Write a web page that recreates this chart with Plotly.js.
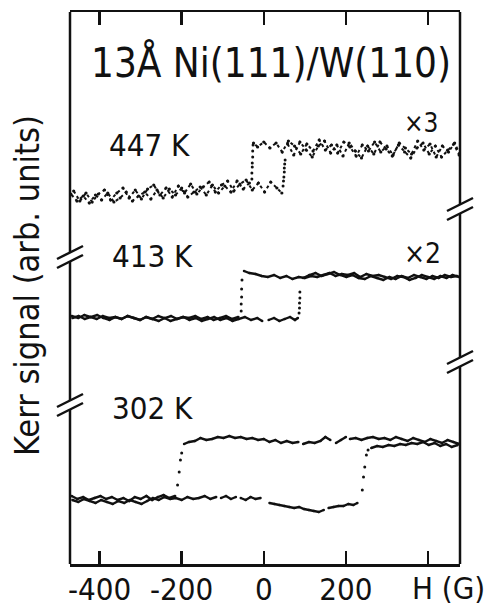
<!DOCTYPE html>
<html>
<head>
<meta charset="utf-8">
<script src="https://cdn.plot.ly/plotly-3.0.1.min.js"></script>
<style>
  html, body { margin: 0; padding: 0; background: #fff; }
  #chart { width: 487px; height: 607px; }
</style>
</head>
<body>
<div id="chart"></div>
<script>
// ---------------- data (H in gauss, Kerr signal in arb. units, curves offset) ----------------
const tickVals = [-400, -200, 0, 200, 400];
const tickText = ["-400", "-200", "0", "200", ""];

// 447 K (x3): descending sweep (+H -> -H)
const H447Down = [478, 465, 450, 435, 420, 405, 390, 375, 360, 345, 330, 315, 300, 285, 270, 255, 240, 225, 210, 195, 180, 165, 150, 135, 120, 105, 90, 75, 60, 45, 30, 15, 0, -15, -25,
  null,
  -35, -50, -65, -80, -95, -110, -125, -140, -155, -170, -185, -200, -215, -230, -245, -260, -275, -290, -305, -320, -335, -350, -365, -380, -395, -410, -425, -440, -455, -470];
const S447Down = [409, 421, 412, 418, 407, 420, 414, 423, 410, 416, 421, 409, 418, 412, 422, 413, 419, 408, 417, 422, 411, 419, 414, 424, 413, 420, 410, 418, 423, 412, 421, 416, 422, 417, 421,
  null,
  381, 375, 383, 372, 378, 371, 379, 369, 377, 372, 367, 376, 369, 375, 366, 374, 365, 372, 368, 363, 372, 366, 362, 371, 364, 369, 361, 368, 363, 370];
const H447DownSwitch = [-26, -27, -27, -28, -28, -29, -29];
const S447DownSwitch = [419, 413, 407, 401, 397, 391, 385];
// 447 K (x3): ascending sweep (-H -> +H)
const H447Up = [-463, -448, -433, -418, -403, -388, -373, -358, -343, -328, -313, -298, -283, -268, -253, -238, -223, -208, -193, -178, -163, -148, -133, -118, -103, -88, -73, -58, -43, -28, -13, 2, 17, 32, 44,
  null,
  58, 73, 88, 103, 118, 133, 148, 163, 178, 193, 208, 223, 238, 253, 268, 283, 298, 313, 328, 343, 358, 373, 388, 403, 418, 433, 448, 463, 476];
const S447Up = [373, 363, 371, 362, 370, 374, 364, 371, 376, 366, 374, 365, 375, 379, 369, 376, 367, 378, 371, 380, 370, 377, 382, 372, 379, 383, 373, 380, 384, 374, 381, 372, 382, 376, 371,
  null,
  420, 409, 422, 414, 407, 418, 423, 411, 419, 408, 421, 413, 406, 418, 410, 422, 415, 408, 419, 412, 406, 416, 421, 410, 418, 407, 414, 420, 409];
const H447UpSwitch = [47, 48, 49, 50, 50, 51, 52];
const S447UpSwitch = [378, 383, 387, 392, 396, 400, 404];

// 413 K (x2): descending sweep
const H413Down = [476, 460, 445, 430, 415, 400, 385, 370, 355, 340, 325, 310, 295, 280, 265, 250, 235, 220, 205, 190, 175, 160, 145, 130, 115, 100, 85, 70, 55, 40, 25, 10, -5, -20, -35, -48,
  null,
  -62, -77, -92, -107, -122, -137, -152, -167, -182, -197, -212, -227, -242, -257, -272, -287, -302, -317, -332, -347, -362, -377, -392, -407, -422, -437, -452, -468];
const S413Down = [287, 289, 286, 288, 285, 287, 289, 286, 284, 287, 288, 285, 287, 289, 288, 290, 287, 291, 289, 290, 288, 291, 289, 287, 288, 286, 287, 285, 288, 286, 289, 287, 288, 290, 291, 293,
  null,
  247, 245, 248, 246, 244, 247, 245, 248, 246, 247, 245, 243, 246, 248, 245, 247, 244, 246, 248, 245, 247, 246, 248, 245, 247, 249, 246, 248];
const H413DownSwitch = [-53, -54, -54, -55, -55];
const S413DownSwitch = [284, 275, 267, 260, 253];
// 413 K (x2): ascending sweep
const H413Up = [-466, -451, -436, -421, -406, -391, -376, -361, -346, -331, -316, -301, -286, -271, -256, -241, -226, -211, -196, -181, -166, -151, -136, -121, -106, -91, -76, -61, -46, -31, -16, -4,
  null, 12, 25, 38, 51, 64, 76, 83,
  null,
  96, 111, 126, 141, 156, 171, 186, 201, 216, 231, 246, 261, 276, 291, 306, 321, 336, 351, 366, 381, 396, 411, 426, 441, 456, 471];
const S413Up = [246, 248, 245, 247, 249, 246, 244, 247, 245, 248, 246, 244, 247, 245, 243, 246, 248, 245, 247, 244, 246, 243, 245, 247, 244, 246, 243, 245, 247, 244, 246, 243,
  null, 244, 246, 243, 245, 247, 244, 246,
  null,
  286, 289, 291, 288, 290, 292, 289, 287, 289, 286, 285, 288, 286, 284, 287, 285, 288, 286, 289, 287, 285, 288, 286, 289, 287, 288];
const H413UpSwitch = [86, 87, 87, 88, 88];
const S413UpSwitch = [251, 256, 261, 266, 272];

// 302 K: descending sweep
const H302Down = [476, 462, 448, 434, 420, 406, 392, 378, 364, 350, 336, 322, 308, 294, 280, 266, 252, 238, 224, 210,
  null, 200, 188, 176, null, 162, 150, 138, 124, 110, 96, null,
  84, 70, 56, 42, 28, 14, 0, -14, -28, -42, -56, -70, -84, -98, -112, -126, -140, -154, -168, -182, -194,
  null,
  -216, -230, -244, -258, -272, -286, -300, -314, -328, -342, -356, -370, -384, -398, -412, -426, -440, -454, -468];
const S302Down = [120, 122, 124, 121, 123, 125, 122, 124, 126, 123, 125, 127, 124, 126, 125, 127, 126, 124, 126, 125,
  null, 127, 124, 121, null, 124, 127, 123, 121, 122, 120, null,
  122, 121, 123, 121, 124, 122, 125, 124, 126, 125, 127, 126, 128, 126, 127, 125, 124, 126, 123, 122, 120,
  null,
  68, 66, 69, 67, 64, 68, 65, 67, 63, 66, 64, 67, 65, 68, 66, 64, 67, 65, 68];
const H302DownSwitch = [-200, -203, -206, -210];
const S302DownSwitch = [111, 104, 92, 79];
// 302 K: ascending sweep
const H302Up = [-466, -452, -438, -424, -410, -396, -382, -368, -354, -340, -326, -312, -298, -284, -270, -256, -242, -228, -214, -200, -186, -172, -158, -144, -130, -116,
  null, -104, -92, -80, -68, null, -56, -44, -32, -20, -8,
  null, 14, 26, 38, 50, 62, 74, 86, 98, 110, 122, 134, 146,
  null, 158, 170, 182, 194, 206, 218, 228,
  null,
  262, 276, 290, 304, 318, 332, 346, 360, 374, 388, 402, 416, 430, 444, 458, 472];
const S302Up = [64, 62, 65, 63, 61, 64, 62, 60, 63, 61, 64, 62, 60, 63, 66, 64, 67, 65, 66, 64, 67, 65, 66, 68, 65, 67,
  null, 66, 68, 65, 67, null, 66, 64, 67, 65, 66,
  null, 61, 60, 59, 58, 57, 56, 57, 55, 54, 53, 52, 54,
  null, 56, 57, 58, 58, 60, 59, 61,
  null,
  116, 118, 117, 119, 118, 120, 119, 121, 120, 122, 119, 121, 118, 120, 117, 119];
const H302UpSwitch = [240, 243, 246, 250, 254];
const S302UpSwitch = [74, 87, 97, 109, 114];

// ---------------- layout geometry (pixels) ----------------
const W = 487, HGT = 607;
const PL = 70, PR = 460, PT = 12, PB = 564;
const px2x = px => (px - PL) / (PR - PL);
const py2y = py => (PB - py) / (PB - PT);
const INK = '#111111';
const FONT = '"DejaVu Sans Condensed", "DejaVu Sans", sans-serif';

function branch(x, y, noisy) {
  return {
    x: x, y: y, type: 'scatter', mode: 'lines+markers', connectgaps: false,
    line: noisy ? { color: INK, width: 2, dash: 'dot' } : { color: INK, width: 2.4 },
    marker: { color: INK, size: noisy ? 3.2 : 2.6 },
    showlegend: false, hoverinfo: 'skip'
  };
}
function switching(x, y) {
  return { x: x, y: y, type: 'scatter', mode: 'markers',
    marker: { color: INK, size: 3 }, showlegend: false, hoverinfo: 'skip' };
}

const data = [
  branch(H447Down, S447Down, true), branch(H447Up, S447Up, true),
  switching(H447DownSwitch, S447DownSwitch), switching(H447UpSwitch, S447UpSwitch),
  branch(H413Down, S413Down, false), branch(H413Up, S413Up, false),
  switching(H413DownSwitch, S413DownSwitch), switching(H413UpSwitch, S413UpSwitch),
  branch(H302Down, S302Down, false), branch(H302Up, S302Up, false),
  switching(H302DownSwitch, S302DownSwitch), switching(H302UpSwitch, S302UpSwitch)
];

// frame sides with axis-break marks
const shapes = [];
function side(axPx, breaks) {
  const g = 4.5;
  let start = PT;
  breaks.forEach(b => {
    shapes.push({ type: 'line', xref: 'paper', yref: 'paper', x0: px2x(axPx), x1: px2x(axPx), y0: py2y(start), y1: py2y(b - g), line: { color: INK, width: 2.5 } });
    start = b + g;
    [-g, g].forEach(o => {
      shapes.push({ type: 'line', xref: 'paper', yref: 'paper',
        x0: px2x(axPx - 13), y0: py2y(b + o + 6.5), x1: px2x(axPx + 13), y1: py2y(b + o - 6.5),
        line: { color: INK, width: 2.5 } });
    });
  });
  shapes.push({ type: 'line', xref: 'paper', yref: 'paper', x0: px2x(axPx), x1: px2x(axPx), y0: py2y(start), y1: py2y(PB), line: { color: INK, width: 2.5 } });
}
side(PL, [257, 405]);
side(PR, [209, 362]);

function label(text, pxLeft, pyMid, size) {
  return { text: text, xref: 'paper', yref: 'paper', x: px2x(pxLeft), y: py2y(pyMid),
    xanchor: 'left', yanchor: 'middle', showarrow: false,
    font: { family: FONT, size: size, color: INK } };
}

const annotations = [
  label('447 K', 107, 145, 31),
  label('×3', 402, 123, 26),
  label('413 K', 110, 256, 31),
  label('×2', 402, 254, 28),
  label('302 K', 110, 408, 31),
  { text: 'H (G)', xref: 'paper', yref: 'paper', x: px2x(448), y: py2y(588), xanchor: 'center', yanchor: 'middle',
    showarrow: false, font: { family: FONT, size: 31, color: INK } },
  { text: 'Kerr signal (arb. units)', xref: 'paper', yref: 'paper', x: px2x(27), y: py2y(286),
    xanchor: 'center', yanchor: 'middle', textangle: -90, showarrow: false,
    font: { family: FONT, size: 34, color: INK } }
];

const layout = {
  width: W, height: HGT,
  margin: { l: PL, r: W - PR, t: PT, b: HGT - PB, pad: 0 },
  paper_bgcolor: '#ffffff', plot_bgcolor: '#ffffff',
  title: { text: '13Å Ni(111)/W(110)', xref: 'paper', x: px2x(271), xanchor: 'center',
    yref: 'container', y: 1 - 63 / HGT, yanchor: 'middle',
    font: { family: FONT, size: 40, color: INK } },
  xaxis: {
    range: [-472, 478], fixedrange: true,
    tickvals: tickVals, ticktext: tickText,
    ticks: 'inside', ticklen: 13, tickwidth: 2.5, tickcolor: INK,
    ticklabelstandoff: -4,
    showline: true, linewidth: 2.5, linecolor: INK, mirror: 'ticks',
    showgrid: false, zeroline: false,
    tickfont: { family: FONT, size: 31, color: INK }
  },
  yaxis: {
    range: [0, 552], fixedrange: true,
    showline: false, showgrid: false, zeroline: false, showticklabels: false, ticks: ''
  },
  shapes: shapes,
  annotations: annotations
};

Plotly.newPlot('chart', data, layout, { displayModeBar: false, staticPlot: true });
</script>
</body>
</html>
